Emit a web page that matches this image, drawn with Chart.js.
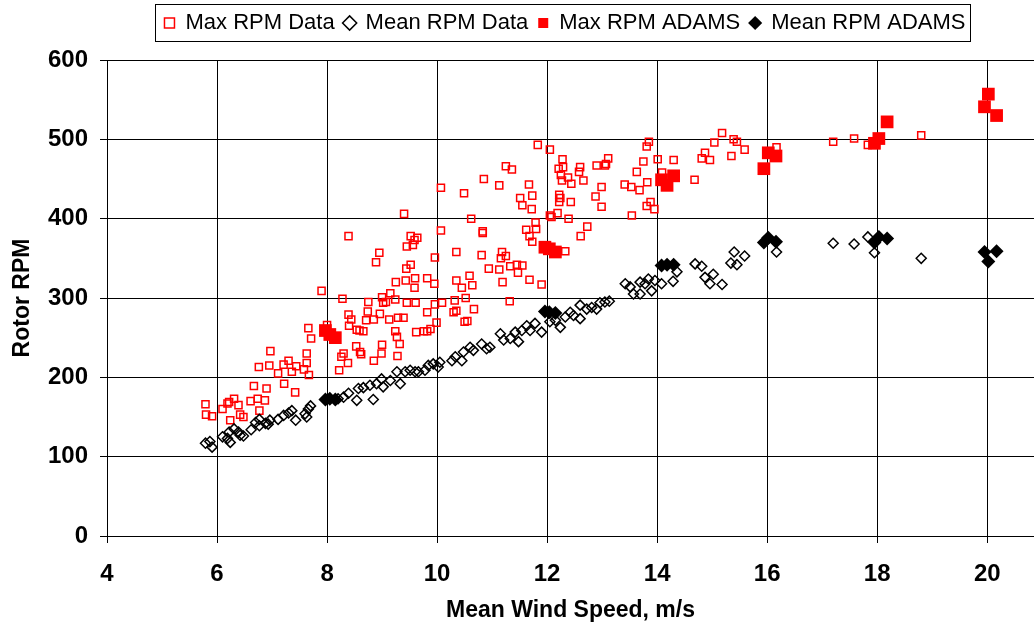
<!DOCTYPE html>
<html>
<head>
<meta charset="utf-8">
<title>Rotor RPM vs Mean Wind Speed</title>
<script src="https://cdn.jsdelivr.net/npm/chart.js@4.4.1/dist/chart.umd.min.js"></script>
<style>
  html, body { margin: 0; padding: 0; background: #fff; }
  #wrap { width: 1034px; height: 624px; position: relative; }
</style>
</head>
<body>
<div id="wrap"><canvas id="rpmChart"></canvas></div>
<script>
// measured data (wind speed m/s, rotor rpm)
const maxWind = [
  5.79, 5.80, 5.91, 6.10, 6.19, 6.22, 6.31, 6.39, 6.24, 6.42, 6.48, 6.61, 6.74, 6.87, 6.77, 6.67, 6.90, 6.76, 6.95, 6.97,
  7.11, 7.22, 7.21, 7.30, 7.36, 7.44, 7.42, 7.58, 7.63, 7.67, 7.63, 7.66, 7.71, 7.90, 8.00,
  9.40, 8.39, 9.52, 9.64, 9.59, 9.45, 9.56, 10.07, 8.95, 8.89, 9.96, 9.52, 9.44, 9.25, 9.43, 9.60, 9.59, 9.82, 9.95, 8.28,
  8.75, 9.00, 9.02, 9.07, 9.15, 9.24, 9.45, 9.61, 9.96, 10.09, 8.74, 8.39, 8.44, 8.71, 8.85, 8.96, 9.13, 9.29, 9.39, 9.82,
  9.99, 8.40, 8.54, 8.59, 8.66, 9.24, 9.27, 9.32, 9.62, 9.76, 9.82, 9.88, 8.53, 9.00, 8.60, 8.62, 8.30, 8.26, 8.99, 9.28,
  8.38, 8.85, 8.22,
  11.83, 12.05, 11.25, 11.36, 10.85, 11.13, 11.67, 10.07, 10.49, 11.51, 11.73, 11.55, 11.72, 12.05, 10.62, 11.79, 11.62,
  11.80, 10.83, 10.83, 11.68, 11.73, 10.35, 11.18, 10.81, 11.25, 11.16, 10.94, 11.13, 11.33, 11.45, 11.55, 11.47, 10.59,
  10.35, 10.45, 10.64, 11.19, 11.68, 11.90, 10.52, 10.32, 11.32, 10.67, 10.35, 10.30, 10.50, 10.55,
  13.85, 13.81, 12.28, 12.21, 12.29, 12.60, 12.58, 12.90, 13.05, 13.11, 13.07, 13.75, 14.01, 14.30, 13.63, 12.25, 12.38,
  12.27, 12.44, 12.66, 13.82, 13.41, 13.53, 12.99, 13.68, 12.22, 12.24, 12.22, 12.43, 12.88, 12.99, 13.88, 13.81, 13.95,
  13.54, 12.19, 12.08, 12.39, 12.73, 12.61, 12.33,
  15.18, 15.04, 15.39, 15.45, 15.59, 14.87, 14.81, 14.96, 15.35, 14.09, 14.68, 16.17, 17.20, 17.58, 17.83, 18.80
];
const maxRpm = [
  166, 153, 151, 160, 167, 169, 173, 165, 146, 153, 150, 170, 173, 171, 158, 189, 186, 213, 215, 233,
  205, 192, 216, 221, 207, 214, 181, 210, 218, 203, 230, 262, 249, 309, 266,
  406, 378, 378, 376, 373, 365, 367, 385, 357, 345, 351, 342, 337, 320, 322, 325, 313, 325, 318, 299,
  295, 301, 294, 295, 306, 298, 294, 294, 292, 294, 283, 279, 273, 272, 273, 280, 273, 275, 275, 282,
  269, 265, 260, 259, 258, 258, 251, 242, 257, 258, 258, 261, 239, 241, 232, 229, 230, 226, 230, 227,
  218, 221, 209,
  493, 487, 466, 462, 450, 442, 443, 439, 432, 426, 429, 417, 412, 404, 400, 395, 386,
  387, 384, 382, 378, 371, 358, 358, 354, 353, 350, 337, 336, 340, 342, 341, 332, 328,
  322, 313, 316, 320, 323, 317, 300, 297, 296, 286, 284, 282, 270, 271,
  497, 491, 475, 463, 465, 465, 459, 467, 467, 476, 469, 472, 475, 474, 459, 455, 452,
  448, 444, 448, 446, 443, 440, 440, 436, 430, 426, 421, 421, 428, 415, 421, 416, 412,
  404, 407, 402, 400, 390, 378, 359,
  508, 496, 500, 497, 487, 483, 476, 474, 479, 458, 449, 490, 497, 501, 493, 505
];

const meanWind = [
  5.79, 5.87, 5.91, 6.10, 6.19, 6.24, 6.22, 6.31, 6.39, 6.42, 6.48, 6.62, 6.70, 6.77, 6.77, 6.88, 6.96, 6.93, 7.11, 7.21,
  7.30, 7.36, 7.43, 7.60, 7.66, 7.70, 7.63,
  8.20, 8.30, 8.39, 8.54, 8.57, 8.66, 8.78, 8.84, 8.90, 8.99, 9.02, 9.15, 9.27, 9.33, 9.42, 9.51, 9.60, 9.66, 9.78, 9.84,
  9.93, 10.02, 10.05, 10.27, 10.33, 10.45, 10.48, 10.60, 10.66, 10.81, 10.90, 10.96, 11.15, 11.21, 11.33, 11.42, 11.48,
  11.54, 11.63,
  11.69, 11.78, 11.90, 12.05, 12.15, 12.24, 12.33, 12.42, 12.48, 12.60, 12.60, 12.72, 12.81, 12.90, 12.96, 13.05, 13.13,
  13.42, 13.51, 13.57, 13.69, 13.69, 13.78, 13.84, 13.90, 13.96, 14.08, 14.29, 14.36, 14.69, 14.81, 14.87, 14.96, 15.02,
  15.18, 15.34, 15.40, 15.45, 15.59, 16.17, 17.20, 17.58, 17.83, 17.95, 18.80
];
const meanRpm = [
  117, 119, 112, 125, 123, 118, 131, 135, 131, 127, 126, 134, 143, 147, 139, 142, 146, 141, 147, 152,
  155, 158, 146, 154, 160, 164, 150,
  173, 175, 180, 171, 186, 187, 190, 172, 192, 198, 188, 196, 207, 192, 207, 209, 207, 207, 209, 215,
  217, 213, 219, 221, 226, 221, 232, 238, 234, 242, 236, 238, 255, 247, 249, 257, 245,
  259, 265,
  259, 268, 257, 270, 272, 263, 276, 282, 278, 291, 274, 286, 288, 286, 294, 295, 296,
  318, 314, 305, 305, 320, 318, 324, 309, 322, 318, 321, 333, 343, 340, 326, 318, 330,
  317, 344, 358, 342, 353, 358, 369, 368, 377, 357, 350
];

// ADAMS simulation results
const adamsWind = [7.97, 8.05, 8.15, 11.96, 12.04, 12.15, 14.08, 14.18, 14.30, 15.94, 16.02, 16.16, 17.95, 18.03, 18.18, 19.95, 20.02, 20.17];
const adamsMax  = [259, 254, 250, 364, 362, 358, 449, 442, 454, 463, 483, 479, 495, 501, 522, 541, 557, 530];
const adamsMean = [172, 173, 172, 283, 282, 281, 341, 342, 342, 370, 376, 371, 370, 377, 375, 358, 346, 359];

const xTicks = [4, 6, 8, 10, 12, 14, 16, 18, 20];
const yTicks = [0, 100, 200, 300, 400, 500, 600];

const toPoints = (xs, ys) => xs.map((x, i) => ({ x: x, y: ys[i] }));

const FONT = "'Liberation Sans', Arial, sans-serif";
const LEGEND_SHIFT = 48;   // legend sits right of centre in the original

// frame round the legend, nudge it right, and leave room under it
const legendFrame = {
  id: 'legendFrame',
  beforeLayout(chart) {
    const lg = chart.legend;
    if (lg && !lg._patched) {
      const fit = lg.fit.bind(lg);
      lg.fit = function () {
        fit();
        this.height += 16;
      };
      const draw = lg.draw.bind(lg);
      lg.draw = function () {
        this.ctx.save();
        this.ctx.translate(LEGEND_SHIFT, 0);
        draw();
        this.ctx.restore();
      };
      lg._patched = true;
    }
  },
  afterDraw(chart) {
    const boxes = chart.legend && chart.legend.legendHitBoxes;
    if (!boxes || !boxes.length) return;
    const left = Math.min(...boxes.map(b => b.left)) - 9 + LEGEND_SHIFT;
    const right = Math.max(...boxes.map(b => b.left + b.width)) + 5 + LEGEND_SHIFT;
    const top = Math.min(...boxes.map(b => b.top)) - 8;
    const bottom = Math.max(...boxes.map(b => b.top + b.height)) + 7;
    const c = chart.ctx;
    c.save();
    c.strokeStyle = '#000';
    c.lineWidth = 1;
    c.strokeRect(Math.round(left) + 0.5, Math.round(top) + 0.5, Math.round(right - left), Math.round(bottom - top));
    c.restore();
  }
};

const ctx = document.getElementById('rpmChart');

new Chart(ctx, {
  type: 'scatter',
  data: {
    datasets: [
      {
        label: 'Max RPM Data',
        data: toPoints(maxWind, maxRpm),
        pointStyle: 'rect',
        pointRadius: 5,
        borderColor: '#ff0000',
        backgroundColor: 'rgba(0,0,0,0)',
        borderWidth: 1.5,
        order: 4
      },
      {
        label: 'Mean RPM Data',
        data: toPoints(meanWind, meanRpm),
        pointStyle: 'rectRot',
        pointRadius: 5,
        borderColor: '#000',
        backgroundColor: 'rgba(0,0,0,0)',
        borderWidth: 1.5,
        order: 3
      },
      {
        label: 'Max RPM ADAMS',
        data: toPoints(adamsWind, adamsMax),
        pointStyle: 'rect',
        pointRadius: 9,
        borderColor: '#ff0000',
        backgroundColor: '#ff0000',
        borderWidth: 0,
        order: 2
      },
      {
        label: 'Mean RPM ADAMS',
        data: toPoints(adamsWind, adamsMean),
        pointStyle: 'rectRot',
        pointRadius: 7,
        borderColor: '#000',
        backgroundColor: '#000',
        borderWidth: 0,
        order: 1
      }
    ]
  },
  options: {
    responsive: true,
    maintainAspectRatio: false,
    animation: false,
    layout: { autoPadding: false, padding: { top: 2, left: 0, right: 0, bottom: 0 } },
    plugins: {
      tooltip: { enabled: false },
      legend: {
        position: 'top',
        align: 'center',
        labels: {
          usePointStyle: true,
          boxWidth: 10,
          boxHeight: 10,
          padding: 10,
          color: '#000',
          sort: (a, b) => a.datasetIndex - b.datasetIndex,
          font: { family: FONT, size: 22 }
        }
      }
    },
    scales: {
      x: {
        type: 'linear',
        min: 4,
        max: 20.85,
        afterBuildTicks(scale) {
          scale.ticks = xTicks.map(v => ({ value: v }));
        },
        afterFit(scale) {
          scale.height = 88;
          scale.paddingLeft = 0;
          scale.paddingRight = 0;
        },
        ticks: {
          color: '#000',
          padding: 17,
          maxRotation: 0,
          font: { family: FONT, size: 24, weight: 'bold' }
        },
        grid: { color: '#000', lineWidth: 1, tickLength: 7, drawTicks: true },
        border: { color: '#000', width: 1 },
        title: {
          display: true,
          text: 'Mean Wind Speed, m/s',
          color: '#000',
          padding: { top: 0, bottom: 0 },
          font: { family: FONT, size: 23, weight: 'bold' }
        }
      },
      y: {
        min: 0,
        max: 600,
        afterBuildTicks(scale) {
          scale.ticks = yTicks.map(v => ({ value: v }));
        },
        afterFit(scale) { scale.width = 107; },
        ticks: {
          color: '#000',
          padding: 12,
          font: { family: FONT, size: 24, weight: 'bold' }
        },
        grid: { color: '#000', lineWidth: 1, tickLength: 7, drawTicks: true },
        border: { color: '#000', width: 1 },
        title: {
          display: true,
          text: 'Rotor RPM',
          color: '#000',
          padding: { top: 9, bottom: 0 },
          font: { family: FONT, size: 23, weight: 'bold' }
        }
      }
    }
  },
  plugins: [legendFrame]
});
</script>
</body>
</html>
